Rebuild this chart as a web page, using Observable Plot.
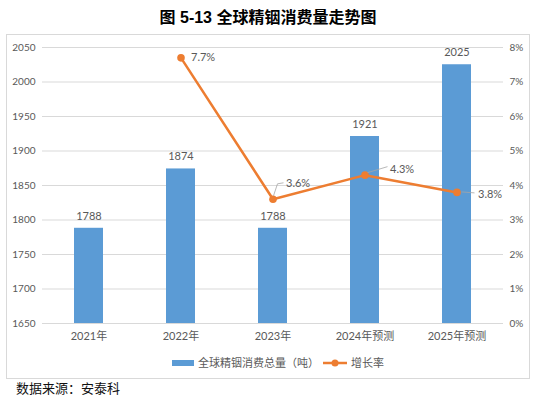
<!DOCTYPE html>
<html><head><meta charset="utf-8">
<script src="https://cdn.jsdelivr.net/npm/d3@7"></script>
<script src="https://cdn.jsdelivr.net/npm/@observablehq/plot@0.6"></script>
<style>
body{margin:0;background:#fff;}
#wrap{position:relative;width:536px;height:397px;overflow:hidden;font-family:Lato,"Noto Sans CJK SC",sans-serif;}
#title{position:absolute;left:0;width:536px;top:4px;text-align:center;font-family:"Liberation Sans","Noto Sans CJK SC",sans-serif;font-weight:bold;font-size:16px;color:#000;}
#box{position:absolute;left:6px;top:34px;width:522px;height:343px;border:1px solid #d9d9d9;}
#chart{position:absolute;left:6px;top:34px;}
#legend{position:absolute;left:0;top:355px;height:16px;width:536px;font-size:11px;color:#595959;font-family:"Noto Sans CJK SC",sans-serif;}
#source{position:absolute;left:16px;top:378px;font-size:13px;color:#111;font-weight:400;font-family:"Noto Sans CJK SC",sans-serif;}
</style></head>
<body><div id="wrap">
<div id="title">图 5-13 全球精铟消费量走势图</div>
<div id="box"></div>
<div id="chart"></div>
<div id="legend">
  <svg width="536" height="16" style="position:absolute;left:0;top:0">
    <rect x="172" y="5" width="22" height="6" fill="#5B9BD5"></rect>
    <text x="198" y="12" font-size="11" fill="#595959" font-family="Noto Sans CJK SC">全球精铟消费总量（吨）</text>
    <line x1="323" x2="347" y1="8" y2="8" stroke="#ED7D31" stroke-width="2.5"></line>
    <circle cx="335" cy="8" r="3.5" fill="#ED7D31"></circle>
    <text x="351" y="12" font-size="11" fill="#595959" font-family="Noto Sans CJK SC">增长率</text>
  </svg>
</div>
<div id="source">数据来源：安泰科</div>
</div>
<script>
const categories = ["2021年","2022年","2023年","2024年预测","2025年预测"];
const consumption = [1788, 1874, 1788, 1921, 2025];
const rateCategories = ["2022年","2023年","2024年预测","2025年预测"];
const growthRate = [7.7, 3.6, 4.3, 3.8];
const leftTicks = [1650,1700,1750,1800,1850,1900,1950,2000,2050];
const rightTickLabels = ["0%","1%","2%","3%","4%","5%","6%","7%","8%"];

const yMin = 1650, yMax = 2050, rMax = 8;
const toY = r => yMin + r * (yMax - yMin) / rMax;

const bars = categories.map((c, i) => ({cat: c, v: consumption[i]}));
const rates = rateCategories.map((c, i) => ({cat: c, r: growthRate[i], y: toY(growthRate[i]), label: growthRate[i].toFixed(1) + "%"}));

const gray = "#595959";
const leaders = {
  "2023年": [[1,-3],[5,-15],[11,-16]],
  "2024年预测": [[3,-2],[23,-8]],
  "2025年预测": [[5,0],[18,1]]
};

const leaderMark = (index, scales) => {
  const g = d3.create("svg:g");
  const bw = scales.x.bandwidth ? scales.x.bandwidth() / 2 : 0;
  for (const d of rates) {
    const pts = leaders[d.cat];
    if (!pts) continue;
    const cx = scales.x(d.cat) + bw, cy = scales.y(d.y);
    g.append("path")
      .attr("d", "M" + pts.map(([dx, dy]) => (cx + dx) + "," + (cy + dy)).join("L"))
      .attr("fill", "none").attr("stroke", "#a6a6a6").attr("stroke-width", 0.8);
  }
  return g.node();
};

const chart = Plot.plot({
  width: 524,
  height: 310,
  marginLeft: 36,
  marginRight: 27,
  marginTop: 13,
  marginBottom: 21,
  style: {fontFamily: 'Lato, "Noto Sans CJK SC", sans-serif', background: "transparent"},
  x: {domain: categories, paddingInner: 0.685, paddingOuter: 0.3425, label: null},
  y: {domain: [yMin, yMax], label: null},
  marks: [
    Plot.ruleY(leftTicks, {stroke: "#d9d9d9", strokeWidth: 1}),
    Plot.axisY({anchor: "left", ticks: leftTicks, tickSize: 0, tickPadding: 7, fontSize: 10, color: gray, label: null,
      tickFormat: d => String(d)}),
    Plot.axisY({anchor: "right", ticks: leftTicks, tickSize: 0, tickPadding: 6, fontSize: 10, color: gray, label: null,
      tickFormat: d => rightTickLabels[leftTicks.indexOf(d)]}),
    Plot.axisX({anchor: "bottom", tickSize: 0, tickPadding: 9, fontSize: 11, color: gray, label: null, fontFamily: 'Lato, "Noto Sans CJK SC", sans-serif'}),
    Plot.barY(bars, {x: "cat", y1: yMin, y2: "v", fill: "#5B9BD5"}),
    Plot.text(bars, {x: "cat", y: "v", text: d => String(d.v), dy: -12, fontSize: 11, fill: gray}),
    Plot.line(rates, {x: "cat", y: "y", stroke: "#ED7D31", strokeWidth: 2.5}),
    Plot.dot(rates, {x: "cat", y: "y", r: 3.8, fill: "#ED7D31"}),
    leaderMark,
    Plot.text(rates.filter(d => d.cat === "2022年"), {x: "cat", y: "y", text: "label", dx: 10, dy: 0, textAnchor: "start", fontSize: 11, fill: gray}),
    Plot.text(rates.filter(d => d.cat === "2023年"), {x: "cat", y: "y", text: "label", dx: 13, dy: -16, textAnchor: "start", fontSize: 11, fill: gray}),
    Plot.text(rates.filter(d => d.cat === "2024年预测"), {x: "cat", y: "y", text: "label", dx: 25, dy: -6, textAnchor: "start", fontSize: 11, fill: gray}),
    Plot.text(rates.filter(d => d.cat === "2025年预测"), {x: "cat", y: "y", text: "label", dx: 21, dy: 2, textAnchor: "start", fontSize: 11, fill: gray})
  ]
});
document.getElementById("chart").appendChild(chart);
</script>
</body></html>
